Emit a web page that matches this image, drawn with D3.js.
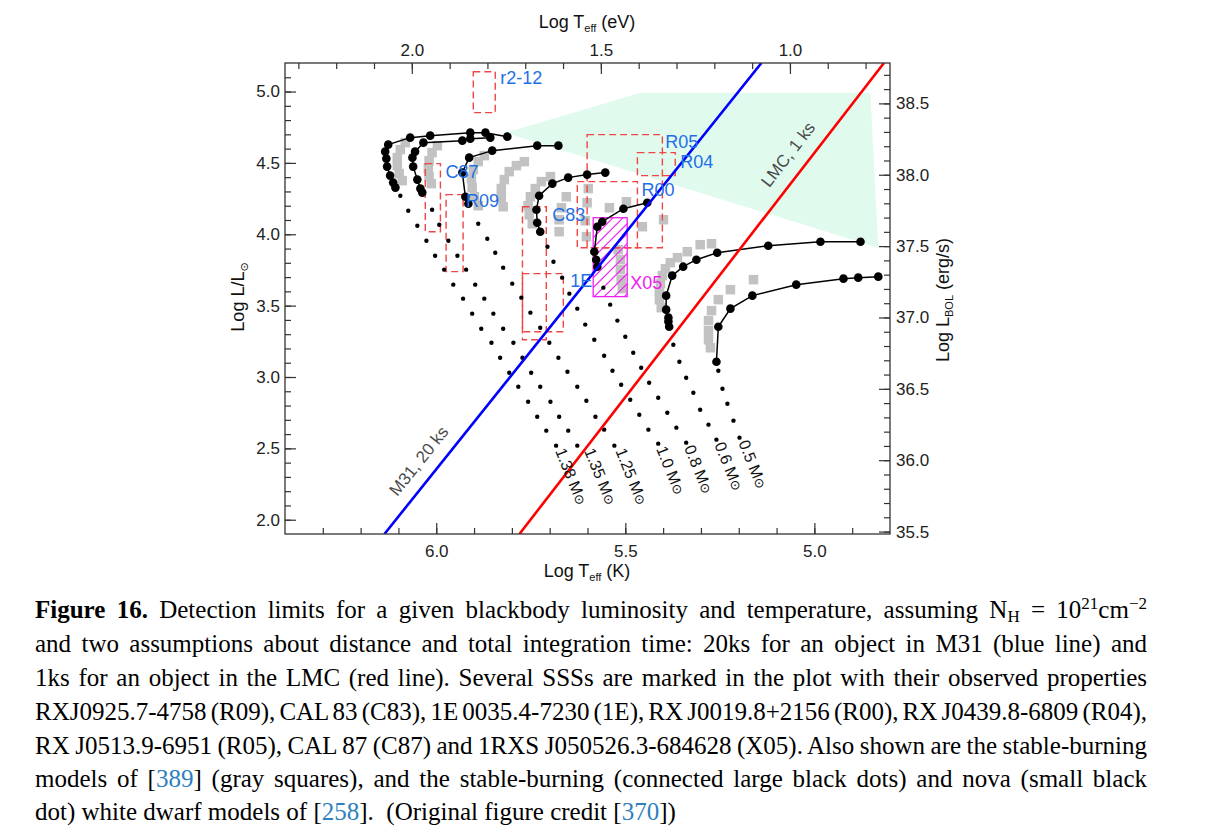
<!DOCTYPE html>
<html><head><meta charset="utf-8">
<script src="https://cdn.jsdelivr.net/npm/d3@7"></script>
<style>
body{margin:0;background:#fff;width:1218px;height:840px;overflow:hidden;position:relative;}
#chart{position:absolute;left:0;top:0;}
.cap{position:absolute;left:35px;font-family:"Liberation Serif","Times New Roman",serif;font-size:25px;white-space:nowrap;color:#000;line-height:25px;}
.cap sub,.cap sup{font-size:0.68em;line-height:0;}
.cap sub{vertical-align:-0.25em;}
.cap sup{vertical-align:0.55em;}
.ref{color:#2f7fc1;}
</style></head><body>
<svg id="chart" width="1218" height="590"></svg>
<script>
// ---------------- DATA ----------------
// axis ticks
const xTicksK = [6.0, 5.5, 5.0];
const xTickLabelsK = ["6.0", "5.5", "5.0"];
const xTicksEV = [2.0, 1.5, 1.0];
const xTickLabelsEV = ["2.0", "1.5", "1.0"];
const yTicksL = [2.0, 2.5, 3.0, 3.5, 4.0, 4.5, 5.0];
const yTickLabelsL = ["2.0", "2.5", "3.0", "3.5", "4.0", "4.5", "5.0"];
const yTicksLbol = [35.5, 36.0, 36.5, 37.0, 37.5, 38.0, 38.5];
const yTickLabelsLbol = ["35.5", "36.0", "36.5", "37.0", "37.5", "38.0", "38.5"];

// LMC 1 ks detectable region (light green) [logT, logL]
const lmcRegion = [[5.817, 4.712], [5.460, 4.992], [4.852, 4.992], [4.831, 3.906]];
// detection limit lines [logT, logL]
const m31Line = [[6.137, 1.9], [5.140, 5.2]];
const lmcLine = [[5.780, 1.9], [4.816, 5.2]];

// SSS error boxes (red dashed)
const boxNames = ["r2-12", "R05", "R04", "R00", "C87", "R09", "C83", "1E"];
const boxT = [[5.844, 5.902], [5.402, 5.601], [5.368, 5.468], [5.468, 5.627], [5.989, 6.029], [5.929, 5.974], [5.709, 5.772], [5.664, 5.772]];
const boxL = [[4.852, 5.139], [3.906, 4.698], [4.411, 4.572], [3.906, 4.369], [4.018, 4.495], [3.738, 4.278], [3.261, 4.193], [3.317, 3.724]];
// X05 hatched box
const x05T = [5.495, 5.585];
const x05L = [3.563, 4.116];

// stable-burning models of [389] (gray squares) [logT, logL]
const graySquares = [
  [6.082,4.642],[6.095,4.593],[6.103,4.537],[6.103,4.481],[6.098,4.425],[6.090,4.376],
  [5.997,4.621],[6.011,4.572],[6.019,4.516],[6.021,4.460],[6.019,4.404],[6.013,4.355],
  [5.873,4.551],[5.889,4.509],[5.902,4.453],[5.907,4.390],[5.905,4.327],[5.899,4.263],[5.889,4.200],
  [5.767,4.509],[5.788,4.481],[5.807,4.439],[5.820,4.383],[5.828,4.320],[5.828,4.256],[5.823,4.193],
  [5.698,4.404],[5.722,4.369],[5.738,4.320],[5.751,4.263],[5.757,4.200],[5.754,4.137],[5.746,4.074],
  [5.656,4.263],[5.669,4.186],[5.675,4.102],[5.675,4.018],
  [5.598,4.320],[5.601,4.221],[5.606,4.095],[5.603,3.983],
  [5.497,4.228],[5.542,4.186],[5.455,4.053],[5.399,4.102],
  [5.519,3.892],[5.513,3.822],[5.513,3.752],[5.511,3.682],[5.508,3.619],
  [5.272,3.934],[5.302,3.927],[5.336,3.878],[5.362,3.836],[5.381,3.801],[5.394,3.759],[5.402,3.710],[5.407,3.654],[5.410,3.598],[5.410,3.542],[5.405,3.486],
  [5.161,3.682],[5.222,3.612],[5.254,3.542],[5.272,3.465],[5.280,3.395],[5.280,3.324],[5.280,3.261],[5.275,3.205]
];

// stable-burning WD models of [258] (connected large black dots) [logT, logL]
const track138 = [[5.812,4.684],[5.870,4.712],[5.910,4.712],[6.016,4.691],[6.069,4.677],[6.127,4.628],[6.135,4.579],[6.132,4.530],[6.130,4.474],[6.122,4.411],[6.114,4.362],[6.108,4.327]];
const track135 = [[5.857,4.677],[5.910,4.670],[5.931,4.656],[6.034,4.642],[6.056,4.579],[6.063,4.537],[6.061,4.474],[6.050,4.383],[6.042,4.320],[6.037,4.292]];
const track125 = [[5.677,4.621],[5.733,4.621],[5.852,4.586],[5.913,4.537],[5.931,4.432],[5.923,4.263],[5.915,4.214]];
const track10 = [[5.553,4.432],[5.601,4.418],[5.651,4.397],[5.693,4.355],[5.728,4.270],[5.735,4.172],[5.733,4.081],[5.725,4.018]];
const track08 = [[5.442,4.221],[5.505,4.179],[5.561,4.088],[5.574,4.053],[5.582,3.878],[5.577,3.822],[5.574,3.773]];
const track06 = [[4.878,3.948],[4.984,3.948],[5.122,3.920],[5.257,3.871],[5.312,3.822],[5.347,3.773],[5.376,3.710],[5.392,3.570],[5.392,3.472],[5.386,3.416],[5.386,3.388],[5.384,3.352]];
const track05 = [[4.831,3.703],[4.884,3.696],[4.923,3.689],[5.048,3.647],[5.164,3.570],[5.222,3.479],[5.254,3.352],[5.259,3.107]];

// nova models (small black dots) [logT, logL]
const nova138 = [[6.095,4.270],[6.074,4.165],[6.050,4.060],[6.026,3.955],[6.003,3.850],[5.979,3.752],[5.955,3.647],[5.929,3.549],[5.905,3.444],[5.881,3.338],[5.854,3.240],[5.831,3.135],[5.807,3.030],[5.783,2.932],[5.757,2.827],[5.733,2.722],[5.709,2.624],[5.683,2.519]];
const nova135 = [[6.011,4.172],[5.992,4.067],[5.968,3.955],[5.944,3.850],[5.921,3.752],[5.897,3.647],[5.873,3.549],[5.849,3.444],[5.823,3.338],[5.796,3.240],[5.772,3.135],[5.749,3.030],[5.725,2.932],[5.698,2.827],[5.675,2.722],[5.651,2.624],[5.627,2.519]];
const nova125 = [[5.889,4.074],[5.865,3.969],[5.844,3.871],[5.823,3.766],[5.799,3.654],[5.775,3.556],[5.751,3.451],[5.725,3.345],[5.701,3.240],[5.677,3.135],[5.653,3.037],[5.627,2.932],[5.603,2.834],[5.579,2.722],[5.556,2.631],[5.529,2.519]];
const nova10 = [[5.706,3.913],[5.690,3.808],[5.667,3.696],[5.648,3.584],[5.627,3.479],[5.606,3.367],[5.582,3.261],[5.556,3.149],[5.534,3.044],[5.511,2.946],[5.487,2.841],[5.463,2.736],[5.439,2.631],[5.413,2.533]];
const nova08 = [[5.558,3.626],[5.540,3.507],[5.521,3.395],[5.500,3.282],[5.479,3.170],[5.458,3.065],[5.437,2.960],[5.413,2.855],[5.389,2.750],[5.365,2.645],[5.339,2.540]];
const nova06 = [[5.373,3.226],[5.357,3.107],[5.339,2.995],[5.320,2.890],[5.302,2.771],[5.280,2.666],[5.259,2.561]];
const nova05 = [[5.254,3.044],[5.243,2.918],[5.230,2.813],[5.214,2.694],[5.198,2.575]];
const novaMassLabels = ["1.38", "1.35", "1.25", "1.0", "0.8", "0.6", "0.5"];

// ---------------- CHART ----------------
const FONT = '"Liberation Sans", Arial, Helvetica, sans-serif';
const BLUE_LABEL = "#1f6fe6";
const MAGENTA = "#f020f0";
const RED_BOX = "#f04545";

const x = d3.scaleLinear().domain([6.4, 4.8]).range([285, 890]);
const y = d3.scaleLinear().domain([1.9, 5.2]).range([534, 63]);
const EV_OFF = Math.log10(11604.5);
const xEV = d3.scaleLinear().domain([6.4 - EV_OFF, 4.8 - EV_OFF]).range([285, 890]);
const LSUN = Math.log10(3.828e33);
const yB = d3.scaleLinear().domain([1.9 + LSUN, 5.2 + LSUN]).range([534, 63]);

const svg = d3.select("#chart");
const defs = svg.append("defs");
defs.append("clipPath").attr("id", "plotclip").append("rect")
  .attr("x", 285).attr("y", 63).attr("width", 605).attr("height", 471);
defs.append("clipPath").attr("id", "x05clip").append("rect")
  .attr("x", x(x05T[1])).attr("y", y(x05L[1]))
  .attr("width", x(x05T[0]) - x(x05T[1])).attr("height", y(x05L[0]) - y(x05L[1]));

const plot = svg.append("g").attr("clip-path", "url(#plotclip)");
const line = d3.line().x(d => x(d[0])).y(d => y(d[1]));

// green region
plot.append("path").attr("d", line(lmcRegion) + "Z").attr("fill", "#e0fbee");

// gray squares
const SQ = 9.5;
plot.append("g").selectAll("rect").data(graySquares).join("rect")
  .attr("x", d => x(d[0]) - SQ / 2).attr("y", d => y(d[1]) - SQ / 2)
  .attr("width", SQ).attr("height", SQ).attr("fill", "#c2c2c2");

// red dashed boxes
plot.append("g").selectAll("rect").data(boxNames).join("rect")
  .attr("x", (d, i) => x(boxT[i][1])).attr("y", (d, i) => y(boxL[i][1]))
  .attr("width", (d, i) => x(boxT[i][0]) - x(boxT[i][1]))
  .attr("height", (d, i) => y(boxL[i][0]) - y(boxL[i][1]))
  .attr("fill", "none").attr("stroke", RED_BOX).attr("stroke-width", 1.4)
  .attr("stroke-dasharray", "7,4");

// X05 hatched box (diagonal hatch lines clipped to the box)
{
  const bx0 = x(x05T[1]), bx1 = x(x05T[0]), by0 = y(x05L[1]), by1 = y(x05L[0]);
  const hg = plot.append("g").attr("clip-path", "url(#x05clip)");
  const h = by1 - by0;
  const starts = d3.range(bx0 - h, bx1 + 1, 10);
  hg.selectAll("line").data(starts).join("line")
    .attr("x1", d => d).attr("y1", by1).attr("x2", d => d + h).attr("y2", by0)
    .attr("stroke", MAGENTA).attr("stroke-width", 1.1);
  plot.append("rect").attr("x", bx0).attr("y", by0).attr("width", bx1 - bx0).attr("height", by1 - by0)
    .attr("fill", "none").attr("stroke", MAGENTA).attr("stroke-width", 1.3);
}

// stable-burning tracks
const tracks = [track138, track135, track125, track10, track08, track06, track05];
const tg = plot.append("g");
tracks.forEach(t => {
  tg.append("path").attr("d", line(t)).attr("fill", "none").attr("stroke", "#000").attr("stroke-width", 1.5);
  tg.append("g").selectAll("circle").data(t).join("circle")
    .attr("cx", d => x(d[0])).attr("cy", d => y(d[1])).attr("r", 4.3).attr("fill", "#000");
});

// nova dots
const novas = [nova138, nova135, nova125, nova10, nova08, nova06, nova05];
const ng = plot.append("g");
novas.forEach(n => {
  ng.append("g").selectAll("circle").data(n).join("circle")
    .attr("cx", d => x(d[0])).attr("cy", d => y(d[1])).attr("r", 2.2).attr("fill", "#000");
});

// detection lines
plot.append("path").attr("d", line(m31Line)).attr("stroke", "#0000ff").attr("stroke-width", 2.6).attr("fill", "none");
plot.append("path").attr("d", line(lmcLine)).attr("stroke", "#ff0000").attr("stroke-width", 2.6).attr("fill", "none");

// mass labels
const lab = svg.append("g").attr("font-family", FONT);
const massDx = [4, 12, 6, 3, 3, 3, 4];
novas.forEach((n, i) => {
  const last = n[n.length - 1];
  const px = x(last[0]) + massDx[i], py = y(last[1]) + 3;
  const t = lab.append("text").attr("transform", `translate(${px},${py}) rotate(68)`)
    .attr("font-size", 16).attr("fill", "#111").attr("dy", "0.35em");
  t.append("tspan").text(novaMassLabels[i] + " M");
  t.append("tspan").attr("font-family", "DejaVu Sans").attr("font-size", 13).text("\u2299");
});

// line labels
function lineLabel(ln, frac, off, text) {
  const p0 = [x(ln[0][0]), y(ln[0][1])], p1 = [x(ln[1][0]), y(ln[1][1])];
  const dx = p1[0] - p0[0], dy = p1[1] - p0[1], len = Math.hypot(dx, dy);
  const ux = dx / len, uy = dy / len;
  const cx = p0[0] + dx * frac + uy * off, cy = p0[1] + dy * frac - ux * off;
  const ang = Math.atan2(dy, dx) * 180 / Math.PI;
  lab.append("text").attr("transform", `translate(${cx},${cy}) rotate(${ang})`)
    .attr("text-anchor", "middle").attr("dy", "0.35em").attr("font-size", 17)
    .attr("fill", "#4a4a4a").text(text);
}
lineLabel(m31Line, 0.13, 19, "M31, 20 ks");
lineLabel(lmcLine, 0.78, 20, "LMC, 1 ks");

// source labels
const labelDx = [5, 3, 5, 4, 5, 3, 6, 7];
const labelDy = [6, 7, 9, 8, 8, 6, 8, 7];
boxNames.forEach((nm, i) => {
  lab.append("text").attr("x", x(boxT[i][0]) + labelDx[i]).attr("y", y(boxL[i][1]) + labelDy[i])
    .attr("dy", "0.36em").attr("font-size", 18).attr("fill", BLUE_LABEL).text(nm);
});
lab.append("text").attr("x", x(x05T[0]) + 3).attr("y", y(x05L[1]) + 65)
  .attr("dy", "0.36em").attr("font-size", 18).attr("fill", MAGENTA).text("X05");

// ---------------- AXES ----------------
function styleAxis(g) {
  g.select(".domain").remove();
  g.selectAll("line").attr("stroke", "#333").attr("stroke-width", 1.2);
  g.selectAll("text").attr("font-family", FONT).attr("font-size", 17).attr("fill", "#222");
}
const minorK = d3.range(63, 48, -1).map(v => v / 10);
const minorEV = d3.range(23, 7, -1).map(v => v / 10);
const minorL = d3.range(20, 52, 1).map(v => v / 10);
const minorB = d3.range(355, 388, 1).map(v => v / 10);
const ax = svg.append("g");
ax.append("g").attr("transform", "translate(0,534)")
  .call(d3.axisBottom(x).tickValues(minorK).tickSize(-6).tickFormat("")).call(styleAxis);
ax.append("g").attr("transform", "translate(0,534)")
  .call(d3.axisBottom(x).tickValues(xTicksK).tickSize(-11).tickPadding(11).tickFormat((d, i) => xTickLabelsK[i])).call(styleAxis);
ax.append("g").attr("transform", "translate(0,63)")
  .call(d3.axisTop(xEV).tickValues(minorEV).tickSize(-6).tickFormat("")).call(styleAxis);
ax.append("g").attr("transform", "translate(0,63)")
  .call(d3.axisTop(xEV).tickValues(xTicksEV).tickSize(-11).tickPadding(7).tickFormat((d, i) => xTickLabelsEV[i])).call(styleAxis);
ax.append("g").attr("transform", "translate(285,0)")
  .call(d3.axisLeft(y).tickValues(minorL).tickSize(-6).tickFormat("")).call(styleAxis);
ax.append("g").attr("transform", "translate(285,0)")
  .call(d3.axisLeft(y).tickValues(yTicksL).tickSize(-11).tickPadding(5).tickFormat((d, i) => yTickLabelsL[i])).call(styleAxis);
ax.append("g").attr("transform", "translate(890,0)")
  .call(d3.axisRight(yB).tickValues(minorB).tickSize(-6).tickFormat("")).call(styleAxis);
ax.append("g").attr("transform", "translate(890,0)")
  .call(d3.axisRight(yB).tickValues(yTicksLbol).tickSize(-11).tickPadding(6).tickFormat((d, i) => yTickLabelsLbol[i])).call(styleAxis);

// frame
svg.append("rect").attr("x", 285).attr("y", 63).attr("width", 605).attr("height", 471)
  .attr("fill", "none").attr("stroke", "#333").attr("stroke-width", 1.3);

// axis titles
const tt = svg.append("g").attr("font-family", FONT).attr("font-size", 18).attr("fill", "#111");
function teff(g, xx, yy, unit) {
  const t = g.append("text").attr("x", xx).attr("y", yy).attr("text-anchor", "middle");
  t.append("tspan").text("Log T");
  t.append("tspan").attr("font-size", 11).attr("dy", 4).text("eff");
  t.append("tspan").attr("dy", -4).text(" (" + unit + ")");
}
teff(tt, 587, 577, "K");
teff(tt, 587, 28, "eV");
const tl = tt.append("text").attr("transform", "translate(244,297) rotate(-90)").attr("text-anchor", "middle");
tl.append("tspan").text("Log L/L");
tl.append("tspan").attr("font-family", "DejaVu Sans").attr("font-size", 11).attr("dy", 4).text("\u2299");
const tr = tt.append("text").attr("transform", "translate(949,300) rotate(-90)").attr("text-anchor", "middle");
tr.append("tspan").text("Log L");
tr.append("tspan").attr("font-size", 11).attr("dy", 4).text("BOL");
tr.append("tspan").attr("dy", -4).text(" (erg/s)");

// ---------------- CAPTION ----------------
const captionLines = [
  '<b>Figure 16.</b> Detection limits for a given blackbody luminosity and temperature, assuming N<sub>H</sub> = 10<sup>21</sup>cm<sup>\u22122</sup>',
  'and two assumptions about distance and total integration time: 20ks for an object in M31 (blue line) and',
  '1ks for an object in the LMC (red line). Several SSSs are marked in the plot with their observed properties',
  'RXJ0925.7-4758 (R09), CAL 83 (C83), 1E 0035.4-7230 (1E), RX J0019.8+2156 (R00), RX J0439.8-6809 (R04),',
  'RX J0513.9-6951 (R05), CAL 87 (C87) and 1RXS J050526.3-684628 (X05). Also shown are the stable-burning',
  'models of [<span class="ref">389</span>] (gray squares), and the stable-burning (connected large black dots) and nova (small black',
  'dot) white dwarf models of [<span class="ref">258</span>].\u00a0 (Original figure credit [<span class="ref">370</span>])'
];
const captionBaselines = [618, 652, 686, 720, 754, 787, 820];
captionLines.forEach((html, i) => {
  const div = d3.select("body").append("div").attr("class", "cap")
    .style("top", (captionBaselines[i] - 21) + "px").html(html);
  if (i < captionLines.length - 1) {
    const node = div.node();
    const w = node.getBoundingClientRect().width;
    const n = (node.textContent.match(/[ \u00a0]/g) || []).length;
    div.style("word-spacing", ((1112 - w) / n) + "px");
  }
});
</script>
</body></html>
